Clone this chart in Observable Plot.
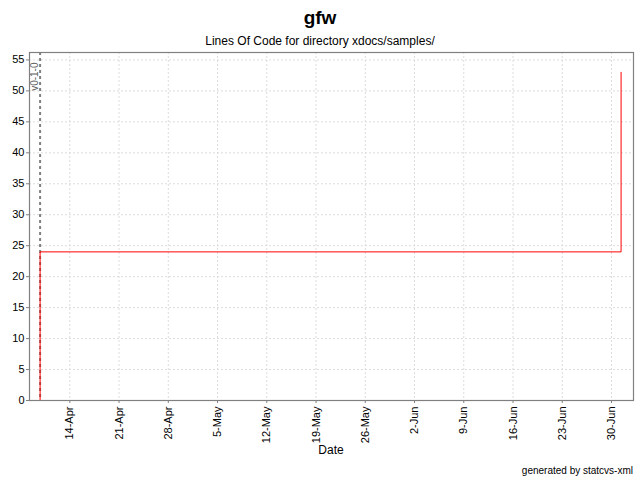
<!DOCTYPE html>
<html>
<head>
<meta charset="utf-8">
<script src="https://cdn.jsdelivr.net/npm/d3@7"></script>
<script src="https://cdn.jsdelivr.net/npm/@observablehq/plot@0.6"></script>
<style>
  html, body { margin: 0; padding: 0; background: #fff; }
  #wrap { position: relative; width: 640px; height: 480px; font-family: "Liberation Sans", Arial, sans-serif; }
  .t { position: absolute; white-space: nowrap; color: #000; }
</style>
</head>
<body>
<div id="wrap">
  <div class="t" id="title" style="left:0;width:640px;text-align:center;top:7px;font-size:19px;font-weight:bold;">gfw</div>
  <div class="t" id="subtitle" style="left:0;width:640px;text-align:center;top:34px;font-size:12px;">Lines Of Code for directory xdocs/samples/</div>
  <div class="t" id="xlabel" style="left:231px;width:200px;text-align:center;top:443px;font-size:12px;">Date</div>
  <div class="t" id="footer" style="right:7px;top:465px;font-size:10px;">generated by statcvs-xml</div>
</div>
<script>
// data
const dates = ["2003-04-09T18:40Z", "2003-04-09T18:40Z", "2003-07-01T08:40Z", "2003-07-01T08:40Z"];
const loc = [0, 24, 24, 53];
const eventDates = ["2003-04-09T18:40Z"];
const eventNames = ["v0-1-0"];
const tickDates = ["2003-04-14", "2003-04-21", "2003-04-28", "2003-05-05", "2003-05-12", "2003-05-19",
                   "2003-05-26", "2003-06-02", "2003-06-09", "2003-06-16", "2003-06-23", "2003-06-30"];
const yTicks = [0, 5, 10, 15, 20, 25, 30, 35, 40, 45, 50, 55];
const xDomain = ["2003-04-08T06:30Z", "2003-07-03T03:00Z"];
const yDomain = [0, 56.2];

const series = dates.map((d, i) => ({date: new Date(d), loc: loc[i]}));
const events = eventDates.map((d, i) => ({date: new Date(d), name: eventNames[i]}));
const xt = tickDates.map(d => new Date(d + "T00:00Z"));
const fmt = d3.utcFormat("%-d-%b");

const chart = Plot.plot({
  width: 640,
  height: 480,
  marginLeft: 29,
  marginRight: 7,
  marginTop: 52,
  marginBottom: 80,
  style: {fontFamily: "Liberation Sans, Arial, sans-serif", fontSize: "11px", color: "#000", background: "transparent"},
  x: {type: "utc", domain: xDomain.map(d => new Date(d))},
  y: {domain: yDomain},
  marks: [
    Plot.gridX(xt, {stroke: "#dcdcdc", strokeOpacity: 1, strokeDasharray: "2,2"}),
    Plot.gridY(yTicks, {stroke: "#dcdcdc", strokeOpacity: 1, strokeDasharray: "2,2"}),
    Plot.ruleX(events, {x: "date", stroke: "#808080", strokeWidth: 2, strokeDasharray: "3,3"}),
    Plot.text(events, {x: "date", text: "name", frameAnchor: "top", rotate: -90, textAnchor: "end", lineAnchor: "middle", dy: 10, dx: -5, fill: "#606060", fontSize: 10}),
    Plot.line(series, {x: "date", y: "loc", stroke: "red", strokeWidth: 1}),
    Plot.frame({stroke: "#808080", strokeWidth: 1.2}),
    Plot.axisY({ticks: yTicks, tickSize: 3, tickPadding: 2, fontSize: 11, stroke: "#808080", label: null}),
    Plot.axisX({ticks: xt, tickFormat: fmt, tickRotate: -90, tickSize: 3, tickPadding: 3, fontSize: 11, stroke: "#808080", label: null})
  ]
});
chart.style.position = "absolute";
chart.style.left = "0";
chart.style.top = "0";
document.getElementById("wrap").appendChild(chart);
</script>
</body>
</html>
